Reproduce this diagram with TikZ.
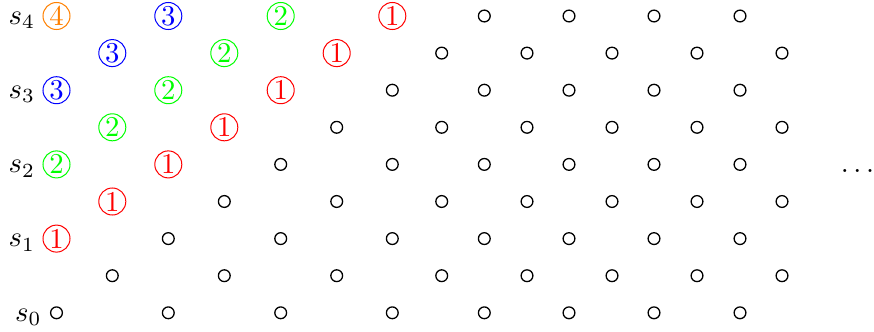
\documentclass[tikz,border=0pt]{standalone}
\colorlet{col1}{red}
\colorlet{col2}{green}
\colorlet{col3}{blue}
\colorlet{col4}{orange}
\begin{document}
\begin{tikzpicture}[x=0.348pt,y=-0.348pt,
  numc/.style={circle,draw,line width=0.35pt,minimum size=9.4pt,inner sep=0pt},
  dotc/.style={circle,draw,line width=0.45pt,minimum size=4.1pt,inner sep=0pt},
  lab/.style={anchor=base east,inner sep=0pt}]
\useasboundingbox (0,0) rectangle (874,331);
\foreach \r in {0,...,8}{
  \pgfmathtruncatemacro\st{floor((8-\r)/2)}
  \pgfmathsetmacro\yy{16+37.1*\r}
  \pgfmathtruncatemacro\odd{mod(\r,2)}
  \foreach \xa/\xb [count=\c from 0] in {56.5/112.3,168.3/224.3,280.7/336.7,392.3/441.7,484.3/527,569/612,654/697,740/782}{
    \ifnum\odd=0 \def\xx{\xa}\else\def\xx{\xb}\fi
    \pgfmathtruncatemacro\v{\st-\c}
    \ifnum\v>0
      \node[numc,draw=col\v,text=col\v] (n\r-\c) at (\xx,\yy) {\v};
    \else
      \node[dotc] (n\r-\c) at (\xx,\yy) {};
    \fi
  }
}
\node[lab] (s4) at (35.5,24.3) {$s_4$};
\node[lab] (s3) at (35.5,98.5) {$s_3$};
\node[lab] (s2) at (35.5,172.7) {$s_2$};
\node[lab] (s1) at (35.5,246.9) {$s_1$};
\node[lab] (s0) at (42,321.1) {$s_0$};
\node[anchor=base,inner sep=0pt] (dots) at (857.5,172.7) {$\ldots$};
\end{tikzpicture}
\end{document}
